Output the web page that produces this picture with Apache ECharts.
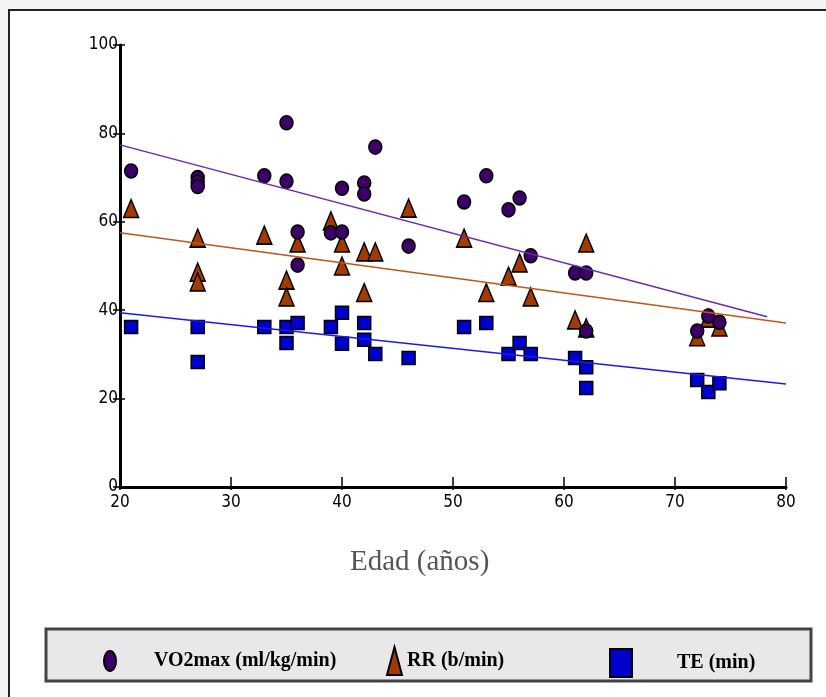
<!DOCTYPE html>
<html>
<head>
<meta charset="utf-8">
<script src="https://cdn.jsdelivr.net/npm/echarts@6/dist/echarts.min.js"></script>
<style>
html, body { margin: 0; padding: 0; background: #f4f4f4; }
#chart { width: 826px; height: 697px; }
</style>
</head>
<body>
<div id="chart"></div>
<script>
// datos: [edad, valor]
var vo2max = [
    [21, 71.5], [27, 70], [27, 69], [27, 68], [33, 70.4], [35, 82.4], [35, 69.2],
    [36, 57.7], [36, 50.2], [39, 57.5], [40, 57.7], [40, 67.6], [42, 68.8], [42, 66.3],
    [43, 76.9], [46, 54.5], [51, 64.5], [53, 70.4], [55, 62.7], [56, 65.4], [57, 52.3],
    [61, 48.4], [62, 48.4], [62, 35.3], [72, 35.3], [73, 38.7], [74, 37.3]
];
var rr = [
    [21, 63], [27, 56.3], [27, 48.6], [27, 46.4], [33, 57], [35, 46.8], [35, 43],
    [36, 55.2], [39, 60.2], [40, 55.2], [40, 50], [42, 53.2], [42, 44], [43, 53.2],
    [46, 63.1], [51, 56.3], [53, 44], [55, 47.7], [56, 50.7], [57, 43], [61, 37.8],
    [62, 55.2], [62, 36], [72, 34], [73, 38.2], [74, 36.2]
];
var te = [
    [21, 36.2], [27, 36.2], [27, 28.3], [33, 36.2], [35, 36.2], [35, 32.6], [36, 37.1],
    [39, 36.2], [40, 39.4], [40, 32.4], [42, 37.1], [42, 33.3], [43, 30.1], [46, 29.2],
    [51, 36.2], [53, 37.1], [55, 30.1], [56, 32.6], [57, 30.1], [61, 29.2], [62, 27.1],
    [62, 22.4], [72, 24.2], [73, 21.5], [74, 23.5]
];
// rectas de tendencia
var vo2Trend = [[20, 77.4], [78.3, 38.5]];
var rrTrend = [[20, 57.5], [80, 37.1]];
var teTrend = [[20, 39.4], [80, 23.3]];

var xTicks = [20, 30, 40, 50, 60, 70, 80];
var yTicks = [0, 20, 40, 60, 80, 100];

var myChart = echarts.init(document.getElementById('chart'));

var labelFont = 'DejaVu Sans Condensed, Liberation Sans Narrow, sans-serif';
var legendText = {
    fontFamily: 'Liberation Serif, serif',
    fontWeight: 'bold',
    fontSize: 20,
    color: '#000'
};
var ellipse = 'path://M0,10 A6,10 0 1,0 12,10 A6,10 0 1,0 0,10 Z';

var option = {
    backgroundColor: '#f4f4f4',
    animation: false,
    graphic: [
        {
            type: 'rect', z: -10,
            shape: { x: 9, y: 10, width: 830, height: 700 },
            style: { fill: '#fff', stroke: '#222', lineWidth: 2 }
        },
        {
            type: 'rect', z: -5,
            shape: { x: 46, y: 629, width: 765, height: 52 },
            style: { fill: '#e8e8e8', stroke: '#444', lineWidth: 3 }
        },
        {
            type: 'text', left: 350, top: 548,
            style: { text: 'Edad (años)', font: '29px "Liberation Serif", serif', fill: '#555' }
        }
    ],
    legend: [
        {
            data: [{ name: 'VO2max (ml/kg/min)', icon: ellipse }], left: 98, top: 645,
            itemWidth: 12, itemHeight: 20, itemGap: 10,
            textStyle: Object.assign({ padding: [0, 0, 0, 33] }, legendText)
        },
        {
            data: ['RR (b/min)'], left: 381, top: 641,
            itemWidth: 15, itemHeight: 28, itemGap: 2,
            textStyle: Object.assign({ padding: [0, 0, 0, 0] }, legendText)
        },
        {
            data: ['TE (min)'], left: 604, top: 643,
            itemWidth: 22, itemHeight: 28,
            textStyle: Object.assign({ padding: [0, 0, 0, 40] }, legendText)
        }
    ],
    grid: { left: 120, right: 40, top: 45, bottom: 210 },
    xAxis: [
        {
            type: 'value', min: 20, max: 80, interval: 10,
            axisLine: { show: true, lineStyle: { color: '#000', width: 3 } },
            axisTick: { show: true, inside: true, length: 10, lineStyle: { color: '#000', width: 1.5 } },
            axisLabel: {
                color: '#000', fontSize: 17, fontFamily: labelFont, margin: 7,
                formatter: function (v) { return xTicks.indexOf(v) >= 0 ? String(v) : ''; }
            },
            splitLine: { show: false }
        },
        {
            type: 'value', min: 20, max: 80, interval: 10, position: 'bottom',
            axisLine: { show: false },
            axisTick: { show: true, length: 3, lineStyle: { color: '#000', width: 1.5 } },
            axisLabel: { show: false },
            splitLine: { show: false }
        }
    ],
    yAxis: [
        {
            type: 'value', min: 0, max: 100, interval: 20,
            axisLine: { show: true, onZero: false, lineStyle: { color: '#000', width: 3 } },
            axisTick: { show: true, length: 7, lineStyle: { color: '#000', width: 1.5 } },
            axisLabel: {
                color: '#000', fontSize: 17, fontFamily: labelFont, margin: 2,
                formatter: function (v) { return yTicks.indexOf(v) >= 0 ? String(v) : ''; }
            },
            splitLine: { show: false }
        },
        {
            type: 'value', min: 0, max: 100, interval: 20, position: 'left',
            axisLine: { show: false },
            axisTick: { show: true, inside: true, length: 5, lineStyle: { color: '#000', width: 1.5 } },
            axisLabel: { show: false },
            splitLine: { show: false }
        }
    ],
    series: [
        {
            name: 'VO2max (ml/kg/min)', type: 'scatter', data: vo2max,
            symbol: 'circle', symbolSize: [13, 14], z: 4,
            itemStyle: { color: '#3c0068', borderColor: '#000', borderWidth: 1.5, opacity: 1 }
        },
        {
            name: 'RR (b/min)', type: 'scatter', data: rr,
            symbol: 'triangle', symbolSize: [15, 18], z: 3,
            itemStyle: { color: '#a33a00', borderColor: '#000', borderWidth: 1.5, opacity: 1 }
        },
        {
            name: 'TE (min)', type: 'scatter', data: te,
            symbol: 'rect', symbolSize: [13, 13], z: 2,
            itemStyle: { color: '#0000cc', borderColor: '#000', borderWidth: 1.5, opacity: 1 }
        },
        {
            type: 'line', data: vo2Trend, symbol: 'none', z: 5, silent: true,
            lineStyle: { color: '#6a2ab0', width: 1.5 }
        },
        {
            type: 'line', data: rrTrend, symbol: 'none', z: 5, silent: true,
            lineStyle: { color: '#c0561a', width: 1.5 }
        },
        {
            type: 'line', data: teTrend, symbol: 'none', z: 5, silent: true,
            lineStyle: { color: '#1a1af0', width: 1.5 }
        }
    ]
};

myChart.setOption(option);
</script>
</body>
</html>
